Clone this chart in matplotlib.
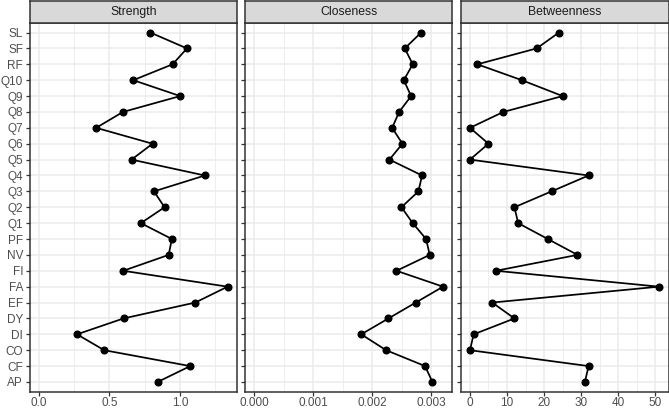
import matplotlib
matplotlib.use("Agg")
import matplotlib.pyplot as plt
from matplotlib.ticker import MultipleLocator

plt.rcParams["font.family"] = ["Liberation Sans", "DejaVu Sans"]

# node labels, bottom to top
nodes = ["AP", "CF", "CO", "DI", "DY", "EF", "FA", "FI", "NV", "PF", "Q1",
         "Q2", "Q3", "Q4", "Q5", "Q6", "Q7", "Q8", "Q9", "Q10", "RF", "SF", "SL"]

strength = [0.842, 1.073, 0.463, 0.27, 0.60, 1.109, 1.338, 0.598, 0.92, 0.943,
            0.723, 0.891, 0.816, 1.177, 0.657, 0.806, 0.406, 0.596, 1.002,
            0.669, 0.948, 1.05, 0.79]
closeness = [3.017e-3, 2.893e-3, 2.233e-3, 1.81e-3, 2.272e-3, 2.735e-3,
             3.198e-3, 2.408e-3, 2.972e-3, 2.910e-3, 2.684e-3, 2.492e-3,
             2.780e-3, 2.842e-3, 2.289e-3, 2.509e-3, 2.335e-3, 2.453e-3,
             2.656e-3, 2.532e-3, 2.684e-3, 2.549e-3, 2.826e-3]
betweenness = [31, 32, 0, 1, 12, 6, 51, 7, 29, 21, 13, 12, 22, 32, 0, 5, 0,
               9, 25, 14, 2, 18, 24]

panels = [
    ("Strength", strength, 0.5, ["0.0", "0.5", "1.0"], [0, 0.5, 1.0]),
    ("Closeness", closeness, 0.001, ["0.000", "0.001", "0.002", "0.003"],
     [0, 0.001, 0.002, 0.003]),
    ("Betweenness", betweenness, 10, ["0", "10", "20", "30", "40", "50"],
     [0, 10, 20, 30, 40, 50]),
]

W, H = 669, 409
fig = plt.figure(figsize=(W / 100, H / 100), dpi=100)

# panel pixel extents (left, right)
lefts = [29.5, 245, 460.5]
rights = [237, 452.5, 668.5]
top_px, bot_px, strip_top = 23, 391.5, 0.5

dark = "#333333"
ypos = list(range(1, len(nodes) + 1))

for i, (title, vals, step, tlabels, ticks) in enumerate(panels):
    l, r = lefts[i], rights[i]
    ax = fig.add_axes([l / W, (H - bot_px) / H, (r - l) / W, (bot_px - top_px) / H])
    lo = min(0, min(vals))
    hi = max(vals)
    pad = (hi - lo) * 0.05
    ax.set_xlim(lo - pad, hi + pad)
    ax.set_ylim(0.4, len(nodes) + 0.6)

    ax.set_xticks(ticks)
    ax.set_xticklabels(tlabels)
    ax.xaxis.set_minor_locator(MultipleLocator(step / 2))
    ax.set_yticks(ypos)
    if i == 0:
        ax.set_yticklabels(nodes)
    else:
        ax.set_yticklabels([])
        ax.tick_params(axis="y", length=0)

    ax.grid(which="major", color="#EBEBEB", lw=1.1)
    ax.grid(which="minor", axis="x", color="#EBEBEB", lw=0.6)
    ax.set_axisbelow(True)
    ax.tick_params(which="minor", length=0)
    ax.tick_params(which="major", color=dark, labelcolor="#4D4D4D",
                   labelsize=8.5, length=2.6, width=0.9, pad=2)
    ax.tick_params(axis="x", pad=1)
    for s in ax.spines.values():
        s.set_color(dark)
        s.set_linewidth(1.1)

    ax.plot(vals, ypos, color="black", lw=1.25, marker="o", ms=4.8,
            zorder=3, clip_on=False)

    # facet strip
    sax = fig.add_axes([l / W, (H - top_px) / H, (r - l) / W, (top_px - strip_top) / H])
    sax.set_facecolor("#D9D9D9")
    sax.set_xticks([])
    sax.set_yticks([])
    for s in sax.spines.values():
        s.set_color(dark)
        s.set_linewidth(1.1)
    sax.text(0.5, 0.5, title, ha="center", va="center", fontsize=8.8,
             color="#1A1A1A", transform=sax.transAxes)

fig.savefig("out.png", dpi=100)
